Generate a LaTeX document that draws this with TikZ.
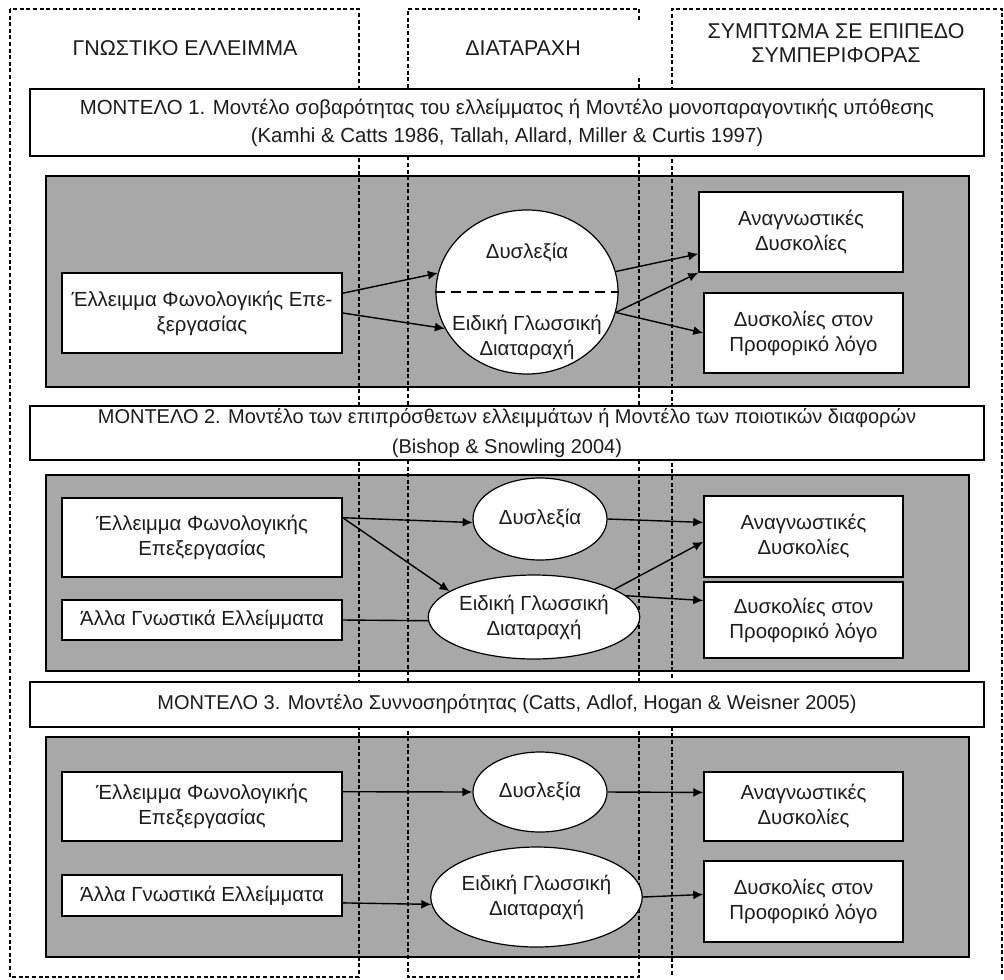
\documentclass[tikz,border=0pt]{standalone}
\usepackage{fontspec}
\setmainfont{Liberation Sans}
\usepackage{xcolor}
\usepackage{tikz}
\usetikzlibrary{arrows.meta}
\usetikzlibrary{shapes.geometric}
\definecolor{panelgray}{RGB}{168,168,168}
\definecolor{ink}{RGB}{28,28,28}

\begin{document}
\begin{tikzpicture}[x=0.5pt,y=-0.5pt,
  every node/.style={font=\fontsize{10.2}{12.5}\selectfont,text=ink},
  box/.style={draw,fill=white,line width=0.75pt,align=center,inner sep=0pt},
  oval/.style={ellipse,draw,fill=white,line width=0.6pt,inner sep=0pt},
  model/.style={draw,fill=white,line width=0.7pt,align=center,inner sep=0pt,minimum width=477pt},
  panel/.style={draw,fill=panelgray,line width=1.1pt},
  colframe/.style={line width=0.8pt,dash pattern=on 2pt off 1.3pt},
  conn/.style={line width=0.7pt,-{Latex[length=5pt,width=4.5pt]}}]
\useasboundingbox (0,0) rectangle (1004,979);
%%%%%%%%%%%%%%%%
\draw[panel] (46,176) rectangle (969,387);
\draw[panel] (46,475) rectangle (969,671);
\draw[panel] (46,737) rectangle (969,957);
%%%%%%%%%%%%%%%%
\draw[colframe] (10,9) rectangle (359,977);
\draw[colframe] (639,20) -- (639,9) -- (408,9) -- (408,977) -- (639,977) -- (639,75);
\draw[colframe] (672,975) -- (672,9) -- (1002,9) -- (1002,975);
\node[align=center,font=\fontsize{10.7}{12}\selectfont] (hgn) at (185,48) {ΓΝΩΣΤΙΚΟ ΕΛΛΕΙΜΜΑ};
\node[align=center,font=\fontsize{10.7}{12}\selectfont] (hdi) at (523,48) {ΔΙΑΤΑΡΑΧΗ};
\node[align=center,font=\fontsize{10.7}{12}\selectfont] (hsy) at (836,43) {ΣΥΜΠΤΩΜΑ ΣΕ ΕΠΙΠΕΔΟ\\ΣΥΜΠΕΡΙΦΟΡΑΣ};
%%%%%%%%%%%%%%%%
\node[model,minimum height=33.5pt,font=\fontsize{10.2}{14}\selectfont] (m1) at (507,122.5) {ΜΟΝΤΕΛΟ 1. Μοντέλο σοβαρότητας του ελλείμματος ή Μοντέλο μονοπαραγοντικής υπόθεσης\\(Kamhi \& Catts 1986, Tallah, Allard, Miller \& Curtis 1997)};
\node[model,minimum height=27pt,font=\fontsize{10}{15}\selectfont] (m2) at (507,433) {ΜΟΝΤΕΛΟ 2. Μοντέλο των επιπρόσθετων ελλειμμάτων ή Μοντέλο των ποιοτικών διαφορών\\(Bishop \& Snowling 2004)};
\node[model,minimum height=22.5pt,font=\fontsize{10}{12}\selectfont] (m3) at (507,704.5) {ΜΟΝΤΕΛΟ 3. Μοντέλο Συννοσηρότητας (Catts, Adlof, Hogan \& Weisner 2005)};
%%%%%%%%%%%%%%%% model 1
\node[box,minimum width=140pt,minimum height=40pt] (a1) at (202,313) {Έλλειμμα Φωνολογικής Επε-\\ξεργασίας};
\node[oval,minimum width=91pt,minimum height=82pt] (e1) at (527,292) {};
\draw[line width=0.7pt,dash pattern=on 5pt off 3pt] (e1.west) -- (e1.east);
\node[align=center] (e1a) at (527,253) {Δυσλεξία};
\node[align=center] (e1b) at (527,337.5) {Ειδική Γλωσσική\\Διαταραχή};
\node[box,minimum width=102pt,minimum height=40pt] (r1) at (801,232) {Αναγνωστικές\\Δυσκολίες};
\node[box,minimum width=99.5pt,minimum height=40pt] (s1) at (803.5,333) {Δυσκολίες στον\\Προφορικό λόγο};
\draw[conn] (a1.8) -- (e1.168);
\draw[conn] (a1.east) -- (e1.204);
\draw[conn] (e1.13) -- (r1.192);
\draw[conn] (e1.-13) -- (r1.south west);
\draw[conn] (e1.-13) -- (s1.west);
%%%%%%%%%%%%%%%% model 2
\node[box,minimum width=140pt,minimum height=39.5pt] (a2) at (202,537.5) {Έλλειμμα Φωνολογικής\\Επεξεργασίας};
\node[box,minimum width=140pt,minimum height=20pt] (b2) at (202,620) {Άλλα Γνωστικά Ελλείμματα};
\node[oval,minimum width=67pt,minimum height=41pt] (d2) at (540,519) {Δυσλεξία};
\node[oval,minimum width=79pt,minimum height=42pt,align=center] (g2) at (534,617) {Ειδική Γλωσσική\\Διαταραχή};
\node[box,minimum width=99.5pt,minimum height=40.5pt] (r2) at (803.5,536.5) {Αναγνωστικές\\Δυσκολίες};
\node[box,minimum width=99.5pt,minimum height=38pt] (s2) at (803.5,620) {Δυσκολίες στον\\Προφορικό λόγο};
\draw[conn] (a2.8) -- (d2.183);
\draw[conn] (a2.8) -- (g2.163);
\draw[line width=0.7pt] (b2.east) -- (g2.182);
\draw[conn] (d2.east) -- (r2.172);
\draw[conn] (g2.19) -- (r2.183);
\draw[conn] (g2.13) -- (s2.169);
%%%%%%%%%%%%%%%% model 3
\node[box,minimum width=140pt,minimum height=34.5pt] (a3) at (202,806.5) {Έλλειμμα Φωνολογικής\\Επεξεργασίας};
\node[box,minimum width=140pt,minimum height=20.5pt] (b3) at (202,895.5) {Άλλα Γνωστικά Ελλείμματα};
\node[oval,minimum width=67pt,minimum height=40pt] (d3) at (540,792) {Δυσλεξία};
\node[oval,minimum width=81.5pt,minimum height=50pt,align=center] (g3) at (536.5,897) {Ειδική Γλωσσική\\Διαταραχή};
\node[box,minimum width=99.5pt,minimum height=34.5pt] (r3) at (803.5,806.5) {Αναγνωστικές\\Δυσκολίες};
\node[box,minimum width=99.5pt,minimum height=40.5pt] (s3) at (803.5,901.5) {Δυσκολίες στον\\Προφορικό λόγο};
\draw[conn] (a3.6) -- (d3.west);
\draw[conn] (b3.-3) -- (g3.184);
\draw[conn] (d3.east) -- (r3.172);
\draw[conn] (g3.east) -- (s3.176);
\end{tikzpicture}
\end{document}
